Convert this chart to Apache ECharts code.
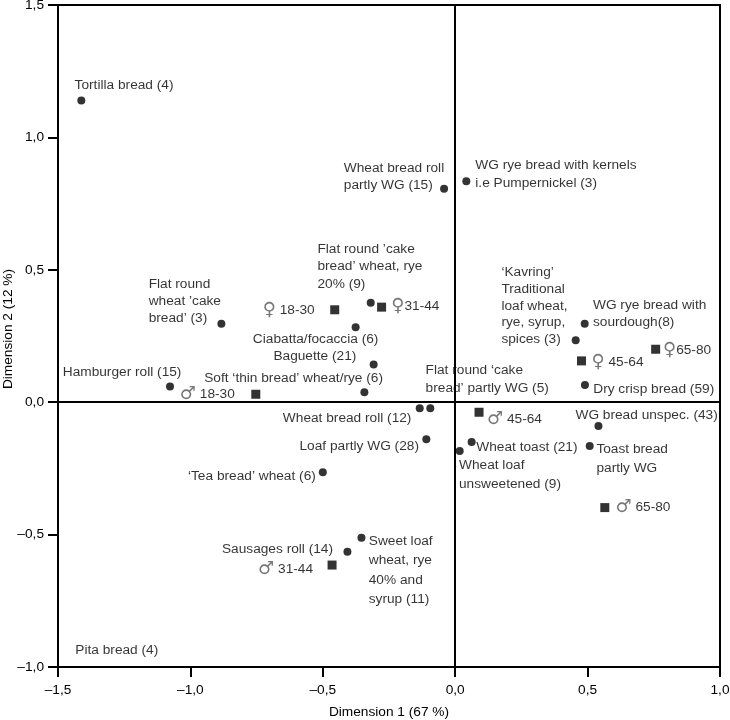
<!DOCTYPE html>
<html>
<head>
<meta charset="utf-8">
<script src="https://cdn.jsdelivr.net/npm/echarts@6/dist/echarts.min.js"></script>
<style>
html,body{margin:0;padding:0;background:#fff;}
#chart{width:730px;height:720px;}
</style>
</head>
<body>
<div id="chart"></div>
<script>
// ---- Data ----
const foodNames = [
  'Tortilla bread (4)',
  'Flat round\nwheat \u2019cake\nbread\u2019 (3)',
  'Wheat bread roll\npartly WG (15)',
  'WG rye bread with kernels\ni.e Pumpernickel (3)',
  'Flat round \u2019cake\nbread\u2019 wheat, rye\n20% (9)',
  'Ciabatta/focaccia (6)',
  'Baguette (21)',
  'Soft \u2018thin bread\u2019 wheat/rye (6)',
  'Hamburger roll (15)',
  '\u2018Tea bread\u2019 wheat (6)',
  'Sausages roll (14)',
  'Sweet loaf\nwheat, rye\n40% and\nsyrup (11)',
  'Flat round \u2018cake\nbread\u2019 partly WG (5)',
  'Wheat bread roll (12)',
  'Loaf partly WG (28)',
  'Wheat toast (21)',
  'Wheat loaf\nunsweetened (9)',
  '\u2018Kavring\u2019\nTraditional\nloaf wheat,\nrye, syrup,\nspices (3)',
  'WG rye bread with\nsourdough(8)',
  'Dry crisp bread (59)',
  'WG bread unspec. (43)',
  'Toast bread\npartly WG'
];
const foodX = [-1.412, -0.883, -0.042, 0.042, -0.319, -0.376, -0.308, -0.343, -1.077, -0.500, -0.407, -0.354, -0.094, -0.134, -0.109, 0.062, 0.017, 0.455, 0.489, 0.490, 0.541, 0.508];
const foodY = [1.139, 0.296, 0.806, 0.834, 0.376, 0.283, 0.142, 0.038, 0.059, -0.265, -0.565, -0.512, -0.023, -0.023, -0.140, -0.150, -0.184, 0.234, 0.296, 0.065, -0.090, -0.165];

const groupSymbols = ['\u2640', '\u2640', '\u2642', '\u2642', '\u2642', '\u2640', '\u2640', '\u2642'];
const groupNames = [' 18-30', '31-44', ' 18-30', ' 31-44', ' 45-64', ' 45-64', '65-80', ' 65-80'];
const groupX = [-0.455, -0.278, -0.753, -0.465, 0.090, 0.477, 0.757, 0.565];
const groupY = [0.349, 0.359, 0.030, -0.615, -0.038, 0.156, 0.200, -0.398];

const extraNames = ['Pita bread (4)'];
const extraX = [-1.278];
const extraY = [-0.936];

const xTickValues = [-1.5, -1.0, -0.5, 0.0, 0.5, 1.0];
const xTickLabels = ['\u20131,5', '\u20131,0', '\u20130,5', '0,0', '0,5', '1,0'];
const yTickValues = [-1.0, -0.5, 0.0, 0.5, 1.0, 1.5];
const yTickLabels = ['\u20131,0', '\u20130,5', '0,0', '0,5', '1,0', '1,5'];

const xTitle = 'Dimension 1 (67 %)';
const yTitle = 'Dimension 2 (12 %)';

// ---- Label layout (pixel offsets from the mark) ----
const foodLabelLayout = [
  ['left', -6.7, -15, 17],
  ['left', -72.7, -23, 17],
  ['left', -100.3, -12, 16.5],
  ['left', 9, -7, 17.5],
  ['left', -53.3, -36, 17.4],
  ['center', -40, 12, 17],
  ['right', -17.3, -8.7, 17],
  ['right', 18.6, -14, 17],
  ['right', 11.4, -14, 17],
  ['right', -7, 3.7, 17],
  ['right', -14.4, -2.7, 17],
  ['left', 7.3, 32.3, 19.5],
  ['left', -4.7, -28.8, 17.6],
  ['right', -8.3, 10, 17],
  ['right', -7.4, 7.4, 17],
  ['left', 4.7, 5.7, 17],
  ['left', -0.7, 24, 18.6],
  ['left', -74.3, -34.5, 16.7],
  ['left', 8.3, -9.8, 17],
  ['left', 8.3, 4, 17],
  ['left', -23, -11, 17],
  ['left', 6.7, 12.8, 19]
];
const groupLabelLayout = [
  ['right', -20, 0.7],
  ['left', 9.7, -0.6],
  ['right', -21, 0],
  ['right', -19, 4],
  ['left', 8, 7],
  ['left', 10, 1.6],
  ['left', 7.3, 0.7],
  ['left', 10.7, 0]
];

const FONT = "'Liberation Sans', Arial, Helvetica, sans-serif";
const FS = 13.7;

function tickFmt(values, labels) {
  return function (v) {
    for (let i = 0; i < values.length; i++) {
      if (Math.abs(values[i] - v) < 1e-6) return labels[i];
    }
    return '';
  };
}

const foodData = foodNames.map((n, i) => {
  const l = foodLabelLayout[i];
  return {
    value: [foodX[i], foodY[i]],
    name: n,
    label: {
      show: true, position: 'inside', align: l[0], verticalAlign: 'middle',
      offset: [l[1], l[2]], lineHeight: l[3],
      formatter: n, color: '#000', fontFamily: FONT, fontSize: FS
    }
  };
});

const groupData = groupNames.map((n, i) => {
  const l = groupLabelLayout[i];
  return {
    value: [groupX[i], groupY[i]],
    name: groupSymbols[i] + n,
    label: {
      show: true, position: 'inside', align: l[0], verticalAlign: 'middle',
      offset: [l[1], l[2]],
      formatter: '{g|' + groupSymbols[i] + '}{t|' + n + '}',
      rich: {
        g: { fontFamily: "'DejaVu Sans', sans-serif", fontSize: 18, color: '#555' },
        t: { fontFamily: FONT, fontSize: FS, color: '#000' }
      }
    }
  };
});

const extraData = extraNames.map((n, i) => ({
  value: [extraX[i], extraY[i]],
  name: n,
  label: {
    show: true, position: 'inside', align: 'center', verticalAlign: 'middle',
    formatter: n, color: '#000', fontFamily: FONT, fontSize: FS
  }
}));

const chart = echarts.init(document.getElementById('chart'), null, { renderer: 'canvas' });
chart.setOption({
  animation: false,
  backgroundColor: '#fff',
  grid: { left: 58, right: 10, top: 5, bottom: 53, containLabel: false, outerBoundsMode: 'none', show: true, borderColor: '#000', borderWidth: 2, backgroundColor: 'transparent' },
  xAxis: {
    type: 'value', min: -1.5, max: 1.0, interval: 0.5,
    name: xTitle, nameLocation: 'middle', nameGap: 38,
    nameTextStyle: { fontFamily: FONT, fontSize: FS, color: '#000' },
    axisLine: { show: true, onZero: false, lineStyle: { color: '#000', width: 2 } },
    axisTick: { show: true, length: 10, lineStyle: { color: '#000', width: 2 } },
    axisLabel: { margin: 16, fontFamily: FONT, fontSize: FS, color: '#000', formatter: tickFmt(xTickValues, xTickLabels) },
    splitLine: { show: false }
  },
  yAxis: {
    type: 'value', min: -1.0, max: 1.5, interval: 0.5,
    name: yTitle, nameLocation: 'middle', nameGap: 43, nameMoveOverlap: false,
    nameTextStyle: { fontFamily: FONT, fontSize: FS, color: '#000', padding: [0, 0, 0, 14] },
    axisLine: { show: true, onZero: false, lineStyle: { color: '#000', width: 2 } },
    axisTick: { show: true, length: 10, lineStyle: { color: '#000', width: 2 } },
    axisLabel: { margin: 14, fontFamily: FONT, fontSize: FS, color: '#000', formatter: tickFmt(yTickValues, yTickLabels) },
    splitLine: { show: false }
  },
  series: [
    {
      type: 'scatter', symbol: 'circle', symbolSize: 8,
      itemStyle: { color: '#000' },
      data: foodData,
      markLine: {
        silent: true, symbol: ['none', 'none'], animation: false,
        label: { show: false },
        lineStyle: { color: '#000', width: 2, type: 'solid' },
        data: [{ xAxis: 0 }, { yAxis: 0 }]
      },
      z: 3
    },
    {
      type: 'scatter', symbol: 'rect', symbolSize: 9,
      itemStyle: { color: '#000' },
      data: groupData,
      z: 3
    },
    {
      type: 'scatter', symbol: 'circle', symbolSize: 0,
      itemStyle: { color: 'transparent' },
      data: extraData,
      z: 3
    }
  ]
});
</script>
</body>
</html>
